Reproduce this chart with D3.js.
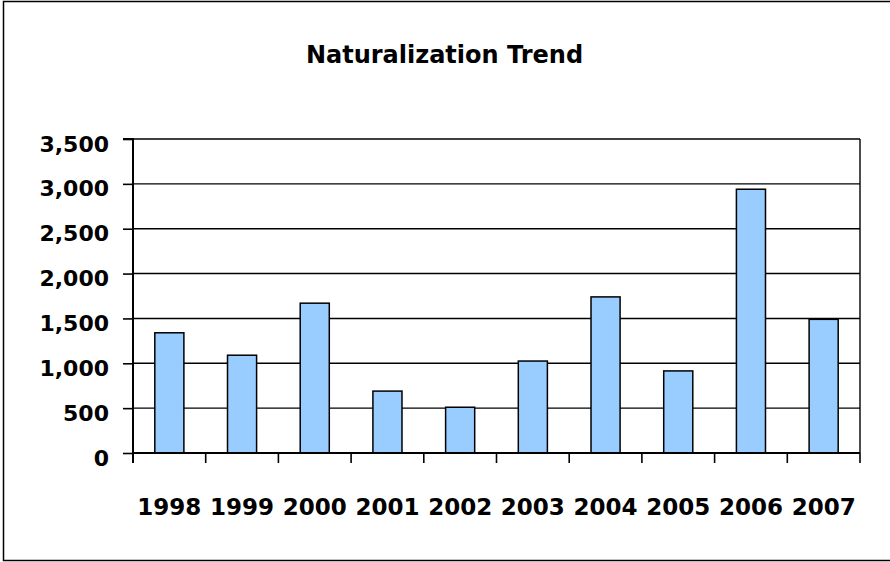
<!DOCTYPE html>
<html><head><meta charset="utf-8">
<script src="https://cdn.jsdelivr.net/npm/d3@7"></script>
<style>body{margin:0;background:#fff;} svg{display:block;}</style>
</head><body>
<svg id="c" width="890" height="562"></svg>
<script>
const years = ["1998","1999","2000","2001","2002","2003","2004","2005","2006","2007"];
const values = [1340, 1090, 1670, 690, 510, 1025, 1740, 915, 2940, 1490];
const yTicks = [0, 500, 1000, 1500, 2000, 2500, 3000, 3500];
const title = "Naturalization Trend";

const svg = d3.select("#c");
const font = "'DejaVu Sans', sans-serif";
const L = 133, R = 860, T = 139, B = 453;

svg.append("rect").attr("x", 3.5).attr("y", 1.5).attr("width", 900).attr("height", 559)
  .attr("fill", "#fff").attr("stroke", "#000").attr("stroke-width", 1.5);

const x = d3.scaleBand().domain(years).range([L, R]).paddingInner(0.6).paddingOuter(0.3);
const y = d3.scaleLinear().domain([0, 3500]).range([B, T]);

// gridlines
svg.append("g").selectAll("line").data(yTicks.filter(d => d > 0)).join("line")
  .attr("x1", L).attr("x2", R).attr("y1", d => y(d)).attr("y2", d => y(d))
  .attr("stroke", "#000").attr("stroke-width", 1.4);

// right frame line
svg.append("line").attr("x1", R).attr("x2", R).attr("y1", T).attr("y2", B)
  .attr("stroke", "#000").attr("stroke-width", 1.4);

// bars
svg.append("g").selectAll("rect").data(years).join("rect")
  .attr("x", d => x(d)).attr("width", x.bandwidth())
  .attr("y", (d, i) => y(values[i])).attr("height", (d, i) => y(0) - y(values[i]))
  .attr("fill", "#99CCFF").attr("stroke", "#000").attr("stroke-width", 1.5);

// y axis
const yAxis = d3.axisLeft(y).tickValues(yTicks).tickSize(10).tickPadding(14)
  .tickFormat(d3.format(","));
const gy = svg.append("g").attr("transform", `translate(${L},0)`).call(yAxis);
gy.select(".domain").attr("stroke-width", 2).attr("d", `M-10,${T}H0V${B + 10}`);
gy.selectAll(".tick line").attr("stroke-width", 1.6);
gy.selectAll("text").attr("font-family", font).attr("font-weight", "bold")
  .attr("font-size", 22).attr("fill", "#000").attr("dy", "0.55em");

// x axis line & boundary ticks
svg.append("line").attr("x1", L).attr("x2", R).attr("y1", B).attr("y2", B)
  .attr("stroke", "#000").attr("stroke-width", 2);
const bounds = d3.range(years.length + 1).map(i => L + i * x.step());
svg.append("g").selectAll("line").data(bounds).join("line")
  .attr("x1", d => d).attr("x2", d => d).attr("y1", B).attr("y2", B + 10)
  .attr("stroke", "#000").attr("stroke-width", 1.6);

svg.append("g").selectAll("text").data(years).join("text")
  .attr("x", d => x(d) + x.bandwidth() / 2).attr("y", 514.5)
  .attr("text-anchor", "middle").attr("font-family", font).attr("font-weight", "bold")
  .attr("font-size", 23).attr("fill", "#000").text(d => d);

svg.append("text").attr("x", 444.5).attr("y", 63).attr("text-anchor", "middle")
  .attr("font-family", font).attr("font-weight", "bold").attr("font-size", 24)
  .attr("fill", "#000").text(title);
</script>
</body></html>
